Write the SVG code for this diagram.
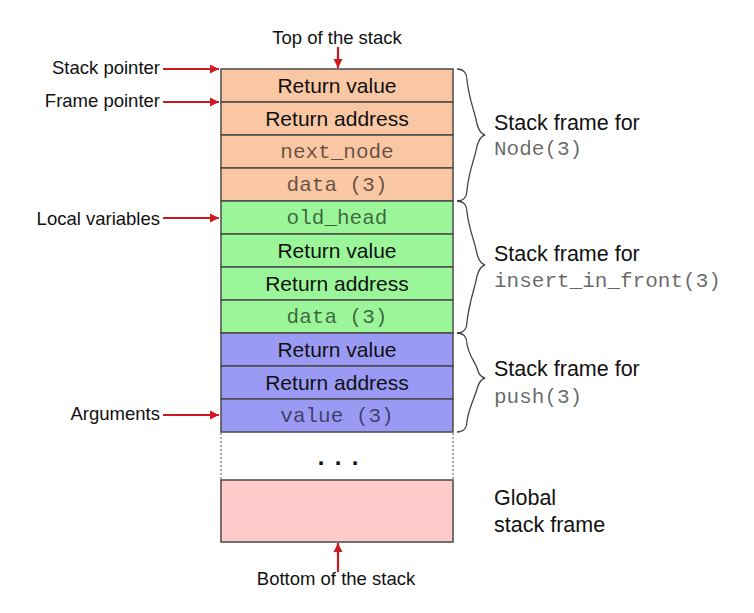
<svg xmlns="http://www.w3.org/2000/svg" width="754" height="613" viewBox="0 0 754 613">
<style>
.sans{font-family:"Liberation Sans",Arial,sans-serif;fill:#111}
.lbl{font-size:18.5px}
.cell{font-size:21px;text-anchor:middle}
.mono{font-family:"Liberation Mono","Courier New",monospace;font-size:21px;fill:#000;fill-opacity:0.6}
.mid{text-anchor:middle}
.frame{font-size:21.5px}
.r-or{fill:#F9C7A3;stroke:#4a4a4a;stroke-width:1.5}
.r-gr{fill:#9BF69A;stroke:#4a4a4a;stroke-width:1.5}
.r-bl{fill:#9A9AF5;stroke:#4a4a4a;stroke-width:1.5}
.r-pk{fill:#FFCBCB;stroke:#4a4a4a;stroke-width:1.5}
.arrow{stroke:#D01A22;stroke-width:2.2;fill:none;marker-end:url(#ah)}
.brace{stroke:#444;stroke-width:1.3;fill:none}
.dotline{stroke:#555;stroke-width:1;stroke-dasharray:2,2}
</style>
<defs>
<marker id="ah" viewBox="0 0 10 10" refX="10" refY="5" markerWidth="4.2" markerHeight="4.2" orient="auto" markerUnits="strokeWidth">
<path d="M0,0 L10,5 L0,10 z" fill="#D01A22"/>
</marker>
</defs>

<g id="frame-node">
<rect class="r-or" x="221" y="69" width="232" height="33"/>
<text class="sans cell" x="337" y="93">Return value</text>
<rect class="r-or" x="221" y="102" width="232" height="33"/>
<text class="sans cell" x="337" y="126">Return address</text>
<rect class="r-or" x="221" y="135" width="232" height="33"/>
<text class="mono mid" x="337" y="158">next_node</text>
<rect class="r-or" x="221" y="168" width="232" height="33"/>
<text class="mono mid" x="337" y="191">data (3)</text>
</g>

<g id="frame-insert">
<rect class="r-gr" x="221" y="201" width="232" height="33"/>
<text class="mono mid" x="337" y="224">old_head</text>
<rect class="r-gr" x="221" y="234" width="232" height="33"/>
<text class="sans cell" x="337" y="258">Return value</text>
<rect class="r-gr" x="221" y="267" width="232" height="33"/>
<text class="sans cell" x="337" y="291">Return address</text>
<rect class="r-gr" x="221" y="300" width="232" height="33"/>
<text class="mono mid" x="337" y="323">data (3)</text>
</g>

<g id="frame-push">
<rect class="r-bl" x="221" y="333" width="232" height="33"/>
<text class="sans cell" x="337" y="357">Return value</text>
<rect class="r-bl" x="221" y="366" width="232" height="33"/>
<text class="sans cell" x="337" y="390">Return address</text>
<rect class="r-bl" x="221" y="399" width="232" height="33"/>
<text class="mono mid" x="337" y="422">value (3)</text>
</g>

<g id="ellipsis">
<line class="dotline" x1="221" y1="433" x2="221" y2="480"/>
<line class="dotline" x1="453" y1="433" x2="453" y2="480"/>
<text class="sans" x="321 338 355" y="465" style="font-size:24px;font-weight:bold;text-anchor:middle">...</text>
</g>

<g id="frame-global">
<rect class="r-pk" x="221" y="480" width="232" height="62"/>
</g>

<g id="labels">
<text class="sans lbl mid" x="337" y="44">Top of the stack</text>
<text class="sans lbl mid" x="336" y="585">Bottom of the stack</text>
<text class="sans lbl" x="160" y="74" text-anchor="end">Stack pointer</text>
<text class="sans lbl" x="160" y="107" text-anchor="end">Frame pointer</text>
<text class="sans lbl" x="160" y="225" text-anchor="end">Local variables</text>
<text class="sans lbl" x="160" y="420" text-anchor="end">Arguments</text>
<text class="sans frame" x="494" y="130">Stack frame for</text>
<text class="mono" x="494" y="155">Node(3)</text>
<text class="sans frame" x="494" y="261">Stack frame for</text>
<text class="mono" x="494" y="287">insert_in_front(3)</text>
<text class="sans frame" x="494" y="376">Stack frame for</text>
<text class="mono" x="494" y="403">push(3)</text>
<text class="sans frame" x="494" y="505">Global</text>
<text class="sans frame" x="494" y="532">stack frame</text>
</g>

<g id="connectors">
<line class="arrow" x1="338" y1="47" x2="338" y2="68"/>
<line class="arrow" x1="338" y1="572" x2="338" y2="543"/>
<line class="arrow" x1="163" y1="69" x2="219" y2="69"/>
<line class="arrow" x1="163" y1="102" x2="219" y2="102"/>
<line class="arrow" x1="163" y1="218" x2="219" y2="218"/>
<line class="arrow" x1="163" y1="415" x2="219" y2="415"/>
<path class="brace" d="M457,69 C464,69 467,74 467,80 C469,100 475,112 477,124 C479,131 481,134 485,135 C481,136 479,139 477,146 C475,158 469,170 467,190 C467,196 464,201 457,201"/>
<path class="brace" d="M457,201 C464,201 467,206 467,212 C469,230 475,242 477,254 C479,261 481,264 485,265 C481,266 479,269 477,276 C475,288 469,302 467,322 C467,328 464,333 457,333"/>
<path class="brace" d="M457,333 C464,333 467,338 467,344 C469,356 475,362 477,368 C479,375 481,377 485,378 C481,379 479,382 477,389 C475,397 469,407 467,421 C467,427 464,432 457,432"/>
</g>
</svg>
